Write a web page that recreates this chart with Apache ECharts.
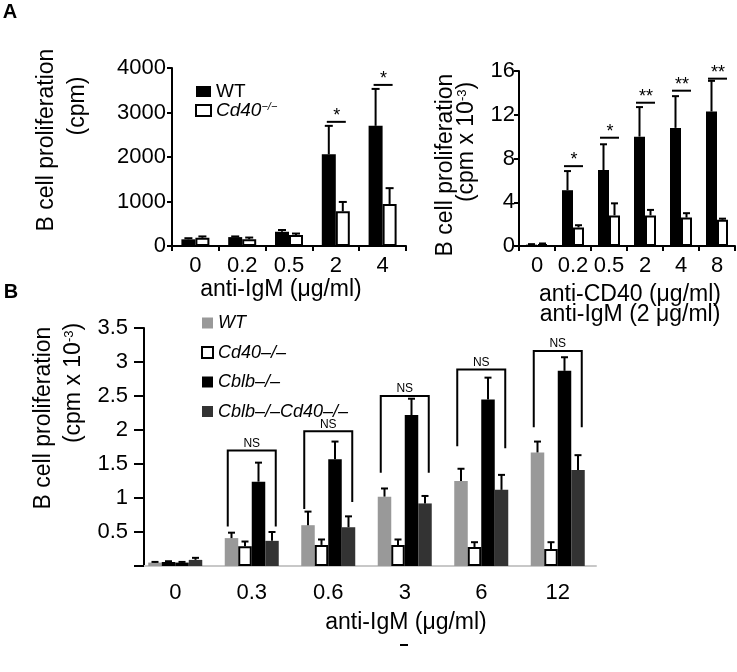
<!DOCTYPE html>
<html><head><meta charset="utf-8">
<script src="https://cdn.jsdelivr.net/npm/echarts@6/dist/echarts.min.js"></script>
<style>html,body{margin:0;padding:0;background:#fff}#c{width:737px;height:672px}</style>
</head><body><div id="c"></div>
<script>
// ---- Panel A (left): anti-IgM ----
const catsA1 = ['0', '0.2', '0.5', '2', '4'];
const a1WT = [150, 200, 320, 2060, 2700];
const a1WTsd = [25, 15, 40, 640, 830];
const a1Cd40 = [185, 150, 250, 780, 945];
const a1Cd40sd = [30, 40, 30, 210, 355];
const sigA1Cat = [3, 4];
const sigA1Y = [2790, 3620];
const sigA1Txt = ['*', '*'];

// ---- Panel A (right): anti-CD40 + anti-IgM ----
const catsA2 = ['0', '0.2', '0.5', '2', '4', '8'];
const a2WT = [0.12, 5.1, 6.95, 10.0, 10.8, 12.3];
const a2WTsd = [0.05, 1.75, 2.35, 2.7, 2.9, 2.8];
const a2Cd40 = [0.18, 1.7, 2.8, 2.8, 2.6, 2.4];
const a2Cd40sd = [0.05, 0.2, 1.1, 0.5, 0.4, 0.1];
const sigA2Cat = [1, 2, 3, 4, 5];
const sigA2Y = [7.3, 9.9, 13.1, 14.2, 15.3];
const sigA2Txt = ['*', '*', '**', '**', '**'];

// ---- Panel B ----
const catsB = ['0', '0.3', '0.6', '3', '6', '12'];
const bWT = [0.05, 0.41, 0.60, 1.02, 1.25, 1.67];
const bWTsd = [0.01, 0.08, 0.20, 0.12, 0.18, 0.16];
const bCd40 = [0.06, 0.29, 0.31, 0.31, 0.28, 0.25];
const bCd40sd = [0.01, 0.07, 0.08, 0.08, 0.07, 0.10];
const bCblb = [0.05, 1.24, 1.57, 2.22, 2.45, 2.87];
const bCblbsd = [0.01, 0.28, 0.26, 0.24, 0.32, 0.20];
const bDKO = [0.09, 0.37, 0.57, 0.92, 1.12, 1.41];
const bDKOsd = [0.03, 0.13, 0.16, 0.11, 0.22, 0.22];
const nsCat = [1, 2, 3, 4, 5];
const nsLeft = [0.58, 0.84, 1.37, 1.76, 2.04];
const nsRight = [0.58, 0.94, 1.37, 1.73, 2.04];
const nsTop = [1.70, 1.98, 2.50, 2.89, 3.16];

const FF = "'Liberation Sans', Arial, Helvetica, sans-serif";

function errSeries(xi, vals, sds, offset, capW) {
  return {
    type: 'custom', xAxisIndex: xi, yAxisIndex: xi, z: 5, silent: true,
    encode: {x: 0, y: [1, 2]},
    data: vals.map((v, i) => [i, v, v + sds[i]]),
    renderItem: function (params, api) {
      const c = api.value(0);
      const p0 = api.coord([c, api.value(1)]);
      const p1 = api.coord([c, api.value(2)]);
      const x = p0[0] + offset;
      return {type: 'group', children: [
        {type: 'line', shape: {x1: x, y1: p0[1], x2: x, y2: p1[1]}, style: {stroke: '#000', lineWidth: 2}},
        {type: 'line', shape: {x1: x - capW / 2, y1: p1[1], x2: x + capW / 2, y2: p1[1]}, style: {stroke: '#000', lineWidth: 2}}
      ]};
    }
  };
}

function sigSeries(xi, cats, ys, txts) {
  return {
    type: 'custom', xAxisIndex: xi, yAxisIndex: xi, z: 6, silent: true,
    encode: {x: 0, y: 1},
    data: cats.map((c, i) => [c, ys[i], txts[i]]),
    renderItem: function (params, api) {
      const p = api.coord([api.value(0), api.value(1)]);
      const t = txts[params.dataIndex];
      return {type: 'group', children: [
        {type: 'line', shape: {x1: p[0] - 9, y1: p[1], x2: p[0] + 10, y2: p[1]}, style: {stroke: '#000', lineWidth: 2}},
        {type: 'text', style: {text: t, x: p[0] + 1, y: p[1] + 3, align: 'center', verticalAlign: 'bottom', fontSize: 18, fontFamily: FF, fill: '#000'}}
      ]};
    }
  };
}

function barSeries(name, xi, data, color, border) {
  return {
    name: name, type: 'bar', xAxisIndex: xi, yAxisIndex: xi, data: data,
    barWidth: xi === 0 ? 14 : (xi === 1 ? 11 : 13.5), barGap: '0%',
    itemStyle: {color: color, borderColor: border ? '#000' : color, borderWidth: border ? 2 : 0},
    silent: true
  };
}

const series = [
  barSeries('WT_A', 0, a1WT, '#000', false),
  barSeries('CD40_A', 0, a1Cd40, '#fff', true),
  errSeries(0, a1WT, a1WTsd, -7, 8),
  errSeries(0, a1Cd40, a1Cd40sd, 7, 8),
  sigSeries(0, sigA1Cat, sigA1Y, sigA1Txt),

  barSeries('WT_A', 1, a2WT, '#000', false),
  barSeries('CD40_A', 1, a2Cd40, '#fff', true),
  errSeries(1, a2WT, a2WTsd, -5.5, 7),
  errSeries(1, a2Cd40, a2Cd40sd, 5.5, 7),
  sigSeries(1, sigA2Cat, sigA2Y, sigA2Txt),

  barSeries('WT_B', 2, bWT, '#999999', false),
  barSeries('CD40_B', 2, bCd40, '#fff', true),
  barSeries('CBLB_B', 2, bCblb, '#000', false),
  barSeries('DKO_B', 2, bDKO, '#333333', false),
  errSeries(2, bWT, bWTsd, -20.25, 7),
  errSeries(2, bCd40, bCd40sd, -6.75, 7),
  errSeries(2, bCblb, bCblbsd, 6.75, 7),
  errSeries(2, bDKO, bDKOsd, 20.25, 7),
  {
    type: 'custom', xAxisIndex: 2, yAxisIndex: 2, z: 6, silent: true,
    encode: {x: 0, y: [1, 2, 3]},
    data: nsCat.map((c, i) => [c, nsLeft[i], nsRight[i], nsTop[i]]),
    renderItem: function (params, api) {
      const c = api.value(0);
      const pl = api.coord([c, api.value(1)]);
      const pr = api.coord([c, api.value(2)]);
      const pt = api.coord([c, api.value(3)]);
      const xl = pl[0] - 24, xr = pl[0] + 24;
      return {type: 'group', children: [
        {type: 'polyline', shape: {points: [[xl, pl[1]], [xl, pt[1]], [xr, pt[1]], [xr, pr[1]]]}, style: {stroke: '#000', lineWidth: 2, fill: null}},
        {type: 'text', style: {text: 'NS', x: pl[0], y: pt[1] - 1, align: 'center', verticalAlign: 'bottom', fontSize: 12, fontFamily: FF, fill: '#000'}}
      ]};
    }
  }
];

const labelsB = {WT_B: 'WT', CD40_B: 'Cd40–/–', CBLB_B: 'Cblb–/–', DKO_B: 'Cblb–/–Cd40–/–'};

function catAxis(gi, data, opts) {
  return Object.assign({
    type: 'category', gridIndex: gi, data: data,
    axisLine: {lineStyle: {color: '#000', width: 2}},
    axisTick: {show: true, length: 5, lineStyle: {color: '#000', width: 2}},
    axisLabel: {fontSize: 22, color: '#000', fontFamily: FF, margin: 9, interval: 0, hideOverlap: false},
    splitLine: {show: false}
  }, opts || {});
}
function valAxis(gi, min, max, interval, opts) {
  return Object.assign({
    type: 'value', gridIndex: gi, min: min, max: max, interval: interval,
    axisLine: {show: true, lineStyle: {color: '#000', width: 2}},
    axisTick: {show: true, length: 5, lineStyle: {color: '#000', width: 2}},
    axisLabel: {fontSize: 22, color: '#000', fontFamily: FF, margin: 6, formatter: v => String(v)},
    splitLine: {show: false}
  }, opts || {});
}

const supRich = {s: {fontSize: 13, lineHeight: 13, verticalAlign: 'top', fontFamily: FF, fill: '#000'}};
function gtext(txt, x, y, size, rot, extra) {
  return {
    type: 'text', x: x, y: y, rotation: rot || 0, silent: true,
    style: Object.assign({text: txt, fontSize: size, fontFamily: FF, fill: '#000', align: 'center', verticalAlign: 'middle', rich: supRich}, extra || {})
  };
}

const option = {
  animation: false,
  backgroundColor: '#fff',
  textStyle: {fontFamily: FF},
  grid: [
    {left: 172, top: 68, width: 234, height: 178},
    {left: 519, top: 71, width: 216, height: 175},
    {left: 137, top: 328, width: 459, height: 238}
  ],
  xAxis: [
    catAxis(0, catsA1),
    catAxis(1, catsA2),
    catAxis(2, catsB, {
      axisLine: {lineStyle: {color: '#c8c8c8', width: 2}},
      axisTick: {show: false},
      axisLabel: {fontSize: 22, color: '#000', fontFamily: FF, margin: 16, interval: 0}
    })
  ],
  yAxis: [
    valAxis(0, 0, 4000, 1000),
    valAxis(1, 0, 16, 4, {axisLabel: {fontSize: 22, color: '#000', fontFamily: FF, margin: 4, formatter: v => String(v)}}),
    valAxis(2, 0, 3.5, 0.5, {
      offset: -7,
      axisTick: {show: true, length: 10, lineStyle: {color: '#000', width: 2}},
      axisLabel: {fontSize: 22, color: '#000', fontFamily: FF, margin: 16, formatter: v => v === 0 ? '' : String(v)}
    })
  ],
  legend: [
    {
      data: ['WT_A', 'CD40_A'], orient: 'vertical', left: 190, top: 77, itemGap: 0,
      itemWidth: 15, itemHeight: 11, icon: 'rect', selectedMode: false,
      textStyle: {fontSize: 19, lineHeight: 18, color: '#000', fontFamily: FF,
        rich: {i: {fontSize: 19, fontStyle: 'italic', fontFamily: FF, color: '#000'},
               s: {fontSize: 11, lineHeight: 11, verticalAlign: 'top', fontStyle: 'italic', fontFamily: FF, color: '#000'}}},
      formatter: n => n === 'WT_A' ? 'WT' : '{i|Cd40}{s|−/−}'
    },
    {
      data: ['WT_B', 'CD40_B', 'CBLB_B', 'DKO_B'], orient: 'vertical', left: 196, top: 308, itemGap: 9.5,
      itemWidth: 11, itemHeight: 11, icon: 'rect', selectedMode: false,
      textStyle: {fontSize: 18, lineHeight: 20, color: '#000', fontStyle: 'italic', fontFamily: FF},
      formatter: n => labelsB[n]
    }
  ],
  graphic: [
    gtext('A', 10, 12, 20, 0, {fontWeight: 'bold'}),
    gtext('B', 11, 292, 20, 0, {fontWeight: 'bold'}),
    gtext('B cell proliferation', 47, 140, 23, Math.PI / 2),
    gtext('(cpm)', 78, 106, 23, Math.PI / 2),
    gtext('anti-IgM (μg/ml)', 281, 290, 23),
    gtext('B cell proliferation', 446, 165, 23, Math.PI / 2),
    gtext('(cpm x 10{s|-3})', 467, 142, 23, Math.PI / 2),
    gtext('anti-CD40 (μg/ml)', 630, 295, 23),
    gtext('anti-IgM (2 μg/ml)', 630, 315, 23),
    gtext('B cell proliferation', 44, 418, 23, Math.PI / 2),
    gtext('(cpm x 10{s|-3})', 74, 383, 23, Math.PI / 2),
    gtext('anti-IgM (μg/ml)', 406, 623, 23),
    {type: 'line', silent: true, shape: {x1: 203, y1: 566, x2: 212, y2: 566}, style: {stroke: '#000', lineWidth: 2}},
    {type: 'line', silent: true, shape: {x1: 400, y1: 645, x2: 408, y2: 645}, style: {stroke: '#000', lineWidth: 2}}
  ],
  series: series
};

const chart = echarts.init(document.getElementById('c'), null, {renderer: 'canvas'});
chart.setOption(option);
</script>
</body></html>
